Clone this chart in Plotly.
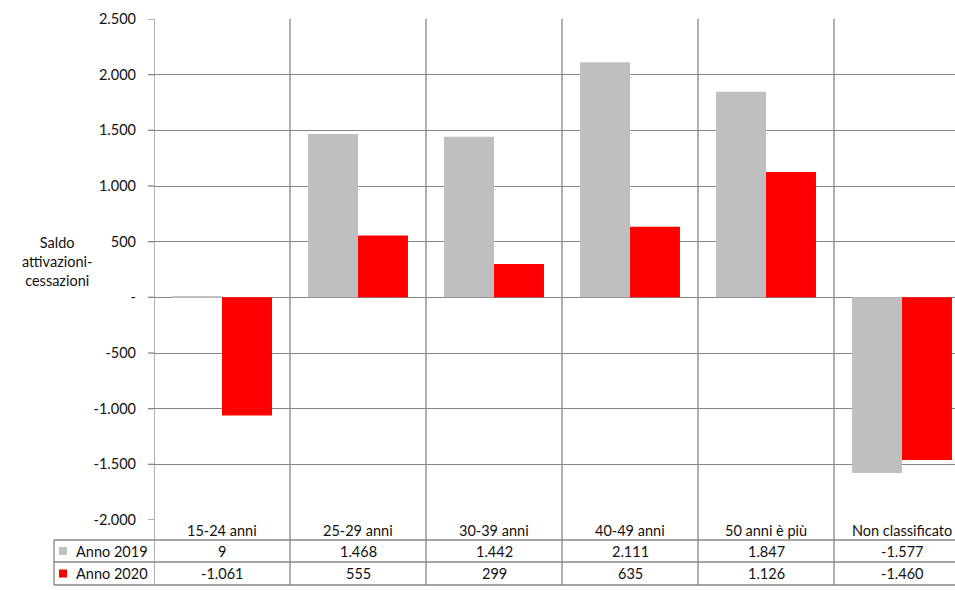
import plotly.graph_objects as go

categories = ["15-24 anni", "25-29 anni", "30-39 anni", "40-49 anni", "50 anni è più", "Non classificato"]
series_names = ["Anno 2019", "Anno 2020"]
values_2019 = [9, 1468, 1442, 2111, 1847, -1577]
values_2020 = [-1061, 555, 299, 635, 1126, -1460]
y_ticks = [-2000, -1500, -1000, -500, 0, 500, 1000, 1500, 2000, 2500]
y_title = "Saldo<br>attivazioni-<br>cessazioni"

colors = ["#BFBFBF", "#FF0000"]
grid = "#868686"
FONT = "Lato"
FS = 14.5

W, H = 955, 590
L, T, B = 154, 19, 70
plot_h = H - T - B


def fmt(v):
    if v == 0:
        return "-"
    s = f"{abs(v):,}".replace(",", ".")
    return ("-" if v < 0 else "") + s


def py(px):
    # pixel y -> paper y
    return (H - B - px) / plot_h


def pxx(px):
    return (px - L) / (W - L)


fig = go.Figure()
for name, vals, col in zip(series_names, [values_2019, values_2020], colors):
    fig.add_trace(go.Bar(x=categories, y=vals, name=name, marker=dict(color=col, line=dict(width=0)),
                         showlegend=False))

ncat = len(categories)
shapes = []
# vertical category boundaries (plot + table)
for i in range(ncat):
    shapes.append(dict(type="line", xref="x", yref="paper", x0=i - 0.5, x1=i - 0.5,
                       y0=py(585), y1=1, line=dict(color=grid, width=1.3), layer="below"))
# table horizontal lines
for yy in [540, 562, 585]:
    shapes.append(dict(type="line", xref="paper", yref="paper", x0=pxx(54), x1=1,
                       y0=py(yy), y1=py(yy), line=dict(color=grid, width=1.3)))
shapes.append(dict(type="line", xref="paper", yref="paper", x0=pxx(54), x1=pxx(54),
                   y0=py(585), y1=py(540), line=dict(color=grid, width=1.3)))
# y tick marks
for t in y_ticks:
    shapes.append(dict(type="line", xref="paper", yref="y", x0=pxx(148), x1=0,
                       y0=t, y1=t, line=dict(color=grid, width=1.3)))
# legend keys
for col, yy in zip(colors, [551, 573.5]):
    shapes.append(dict(type="rect", xref="paper", yref="paper", x0=pxx(59), x1=pxx(67),
                       y0=py(yy + 4), y1=py(yy - 4), fillcolor=col, line=dict(width=0)))

tf = dict(family=FONT, size=FS, color="#111")
annotations = []
for c in categories:
    annotations.append(dict(x=c, xref="x", y=py(530), yref="paper", text=c, showarrow=False,
                            font=tf, xanchor="center", yanchor="middle"))
for vals, yy in zip([values_2019, values_2020], [551, 573.5]):
    for c, v in zip(categories, vals):
        annotations.append(dict(x=c, xref="x", y=py(yy), yref="paper", text=fmt(v), showarrow=False,
                                font=tf, xanchor="center", yanchor="middle"))
for name, yy in zip(series_names, [551, 573.5]):
    annotations.append(dict(x=pxx(74), xref="paper", y=py(yy), yref="paper", text=name, showarrow=False,
                            font=tf, xanchor="left", yanchor="middle"))
annotations.append(dict(x=pxx(57), xref="paper", y=py(261), yref="paper", text=y_title, showarrow=False,
                        align="center", font=tf, xanchor="center", yanchor="middle"))

fig.update_layout(
    width=W, height=H,
    margin=dict(l=L, r=0, t=T, b=B, autoexpand=False),
    paper_bgcolor="white", plot_bgcolor="white",
    barmode="group", bargap=0.265, bargroupgap=0,
    font=tf,
    xaxis=dict(type="category", range=[-0.5, ncat - 0.5 - 15 / 136], showticklabels=False,
               showgrid=False, zeroline=False, showline=False, ticks=""),
    yaxis=dict(range=[-2000, 2500], tickvals=y_ticks, ticktext=[fmt(t) for t in y_ticks],
               showgrid=True, gridcolor=grid, gridwidth=1.3, zeroline=True, zerolinecolor=grid,
               zerolinewidth=1.3, showline=False, ticks="", ticklabelstandoff=17,
               tickfont=tf),
    shapes=shapes, annotations=annotations,
)

fig.write_html("out.html")
